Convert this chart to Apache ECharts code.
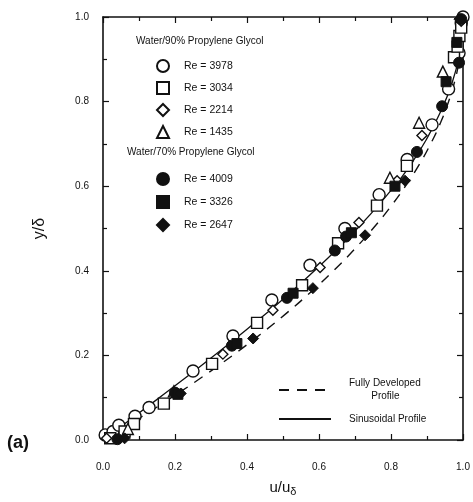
<!DOCTYPE html>
<html>
<head>
<meta charset="UTF-8"/>
<title>Velocity profile</title>
<script src="https://cdn.jsdelivr.net/npm/echarts@6/dist/echarts.min.js"></script>
<style>
  html, body { margin: 0; padding: 0; background: #fff; }
  #main { width: 473px; height: 502px; }
</style>
</head>
<body>
<div id="main"></div>
<script>
// [u/u_delta, y/delta]
var re3978 = [[0.006, 0.012], [0.028, 0.02], [0.044, 0.035], [0.089, 0.056], [0.128, 0.077],
    [0.25, 0.163], [0.361, 0.246], [0.469, 0.331], [0.575, 0.413], [0.672, 0.5], [0.767, 0.58],
    [0.845, 0.663], [0.914, 0.745], [0.96, 0.83], [0.989, 0.915], [0.995, 0.985], [1.0, 1.0]];
var re3034 = [[0.02, 0.004], [0.06, 0.02], [0.086, 0.038], [0.169, 0.086], [0.303, 0.18],
    [0.428, 0.277], [0.553, 0.366], [0.653, 0.465], [0.761, 0.554], [0.844, 0.648],
    [0.975, 0.905], [0.985, 0.93], [0.99, 0.955], [0.995, 0.975]];
var re2214 = [[0.01, 0.004], [0.333, 0.203], [0.472, 0.307], [0.603, 0.408], [0.711, 0.514],
    [0.817, 0.613], [0.886, 0.72], [0.995, 0.99]];
var re1435 = [[0.069, 0.026], [0.197, 0.115], [0.797, 0.62], [0.878, 0.75], [0.944, 0.871]];
var re4009 = [[0.04, 0.002], [0.2, 0.112], [0.358, 0.223], [0.511, 0.336], [0.644, 0.448],
    [0.675, 0.481], [0.872, 0.681], [0.942, 0.789], [0.989, 0.892], [0.995, 0.995]];
var re3326 = [[0.208, 0.108], [0.372, 0.228], [0.528, 0.347], [0.69, 0.49], [0.811, 0.6],
    [0.953, 0.847], [0.983, 0.94]];
var re2647 = [[0.06, 0.004], [0.216, 0.11], [0.417, 0.24], [0.583, 0.359], [0.728, 0.484],
    [0.839, 0.613], [0.99, 0.995]];

// model profiles
var fullyDeveloped = [[0, 0], [0.0975, 0.05], [0.19, 0.1], [0.2775, 0.15], [0.36, 0.2],
    [0.4375, 0.25], [0.51, 0.3], [0.5775, 0.35], [0.64, 0.4], [0.6975, 0.45], [0.75, 0.5],
    [0.7975, 0.55], [0.84, 0.6], [0.8775, 0.65], [0.91, 0.7], [0.9375, 0.75], [0.96, 0.8],
    [0.9775, 0.85], [0.99, 0.9], [0.9975, 0.95], [1.0, 1.0]];
var sinusoidal = [[0, 0], [0.1, 0.064], [0.2, 0.128], [0.3, 0.194], [0.4, 0.262], [0.5, 0.333],
    [0.6, 0.41], [0.7, 0.494], [0.8, 0.59], [0.85, 0.645], [0.9, 0.713], [0.94, 0.78],
    [0.97, 0.845], [0.99, 0.91], [0.998, 0.96], [1.0, 1.0]];

var xTicks = ['0.0', '0.2', '0.4', '0.6', '0.8', '1.0'];
var yTicks = ['0.0', '0.2', '0.4', '0.6', '0.8', '1.0'];

var font = 'Liberation Sans, Arial, Helvetica, sans-serif';
var ink = '#111';

function openSeries(name, data, symbol, size) {
    return {
        name: name, type: 'scatter', data: data, symbol: symbol, symbolSize: size, z: 5,
        itemStyle: {color: '#fff', borderColor: ink, borderWidth: 1.4, opacity: 1}
    };
}
function filledSeries(name, data, symbol, size) {
    return {
        name: name, type: 'scatter', data: data, symbol: symbol, symbolSize: size, z: 6,
        itemStyle: {color: ink, borderColor: ink, borderWidth: 1, opacity: 1}
    };
}

var axisBase = {
    type: 'value', min: 0, max: 1, interval: 0.2,
    axisLine: {show: true, onZero: false, lineStyle: {color: ink, width: 1.6}},
    axisTick: {show: true, inside: true, length: 6, lineStyle: {color: ink, width: 1.2}},
    minorTick: {show: true, splitNumber: 2, length: 4, lineStyle: {color: ink, width: 1.2}},
    splitLine: {show: false}
};

function axis(extra) {
    return Object.assign({}, JSON.parse(JSON.stringify(axisBase)), extra);
}

var legendText = {fontFamily: font, fontSize: 10.5, color: ink, padding: [0, 0, 0, 10]};

var myChart = echarts.init(document.getElementById('main'));
var option = {
    backgroundColor: '#fff',
    animation: false,
    grid: {left: 103, right: 10, top: 17, bottom: 59},
    xAxis: [
        axis({
            position: 'bottom',
            name: 'u/u{s|δ}', nameLocation: 'middle', nameGap: 38,
            nameTextStyle: {fontFamily: font, fontSize: 15, color: ink,
                rich: {s: {fontFamily: font, fontSize: 11, color: ink, padding: [8, 0, 0, 0]}}},
            axisLabel: {margin: 22, fontFamily: font, fontSize: 10, color: ink,
                formatter: function (v) { return xTicks[Math.round(v / 0.2)]; }}
        }),
        axis({position: 'top', axisLabel: {show: false}})
    ],
    yAxis: [
        axis({
            position: 'left',
            name: 'y/δ', nameLocation: 'middle', nameGap: 55, nameRotate: 90,
            nameTextStyle: {fontFamily: font, fontSize: 16, color: ink},
            axisLabel: {margin: 14, fontFamily: font, fontSize: 10, color: ink,
                formatter: function (v) { return yTicks[Math.round(v / 0.2)]; }}
        }),
        axis({position: 'right', axisLabel: {show: false}})
    ],
    legend: [{
        orient: 'vertical', left: 151, top: 54, itemWidth: 12, itemHeight: 12, itemGap: 8,
        textStyle: legendText,
        data: ['Re = 3978', 'Re = 3034', 'Re = 2214', 'Re = 1435']
    }, {
        orient: 'vertical', left: 151, top: 167, itemWidth: 12, itemHeight: 12, itemGap: 9,
        textStyle: legendText,
        data: ['Re = 4009', 'Re = 3326', 'Re = 2647']
    }, {
        left: 273, top: 372, itemWidth: 52, itemHeight: 10,
        itemStyle: {opacity: 0},
        textStyle: {fontFamily: font, fontSize: 10, color: ink, padding: [0, 0, 0, 13], lineHeight: 13},
        data: ['Fully Developed\n        Profile']
    }, {
        left: 273, top: 409, itemWidth: 52, itemHeight: 10,
        itemStyle: {opacity: 0},
        textStyle: {fontFamily: font, fontSize: 10, color: ink, padding: [0, 0, 0, 13]},
        data: ['Sinusoidal Profile']
    }],
    graphic: [
        {type: 'text', left: 136, top: 36,
            style: {text: 'Water/90% Propylene Glycol', font: '10px ' + font, fill: ink}},
        {type: 'text', left: 127, top: 147,
            style: {text: 'Water/70% Propylene Glycol', font: '10px ' + font, fill: ink}},
        {type: 'text', left: 7, top: 434,
            style: {text: '(a)', font: 'bold 18px ' + font, fill: ink}}
    ],
    series: [
        {
            name: 'Fully Developed\n        Profile', type: 'line', data: fullyDeveloped, smooth: true,
            showSymbol: false, symbol: 'none', z: 2, color: ink,
            lineStyle: {color: ink, width: 1.4, type: [10, 8]}
        },
        {
            name: 'Sinusoidal Profile', type: 'line', data: sinusoidal, smooth: true,
            showSymbol: false, symbol: 'none', z: 2, color: ink,
            lineStyle: {color: ink, width: 1.3}
        },
        openSeries('Re = 3978', re3978, 'circle', 12),
        openSeries('Re = 3034', re3034, 'rect', 11),
        openSeries('Re = 2214', re2214, 'diamond', 10),
        openSeries('Re = 1435', re1435, 'triangle', 11),
        filledSeries('Re = 4009', re4009, 'circle', 11),
        filledSeries('Re = 3326', re3326, 'rect', 10),
        filledSeries('Re = 2647', re2647, 'diamond', 11)
    ]
};
myChart.setOption(option);
</script>
</body>
</html>
